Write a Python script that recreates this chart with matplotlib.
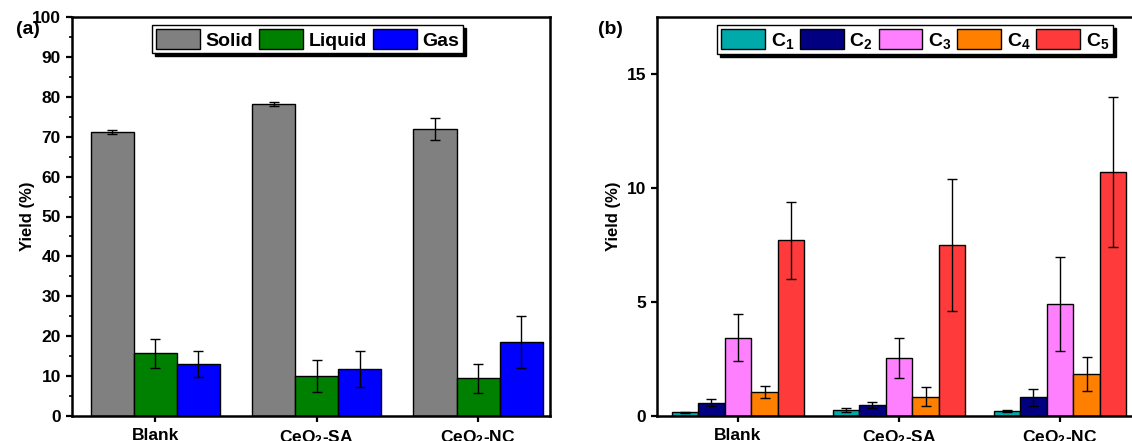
import numpy as np
import matplotlib
matplotlib.use("Agg")
import matplotlib.pyplot as plt
from matplotlib.ticker import MultipleLocator

plt.rcParams['font.family'] = ['Liberation Sans', 'DejaVu Sans']
plt.rcParams['font.weight'] = 'bold'
plt.rcParams['mathtext.fontset'] = 'custom'
plt.rcParams['mathtext.rm'] = 'Liberation Sans:bold'
plt.rcParams['mathtext.bf'] = 'Liberation Sans:bold'
plt.rcParams['mathtext.it'] = 'Liberation Sans:bold'

categories = ['Blank', 'CeO$_2$-SA', 'CeO$_2$-NC']

# Panel (a)
phase_labels = ['Solid', 'Liquid', 'Gas']
phase_colors = ['#808080', '#008000', '#0000FF']
solid = [71.3, 78.3, 72.0]
solid_err = [0.5, 0.5, 2.8]
liquid = [15.7, 10.0, 9.4]
liquid_err = [3.6, 4.0, 3.75]
gas = [13.0, 11.7, 18.6]
gas_err = [3.2, 4.5, 6.5]

# Panel (b)
carbon_labels = ['C$_1$', 'C$_2$', 'C$_3$', 'C$_4$', 'C$_5$']
carbon_colors = ['#00AAAA', '#000080', '#FF80FF', '#FF8000', '#FF3A3A']
c1 = [0.16, 0.26, 0.22]
c1_err = [0.03, 0.07, 0.06]
c2 = [0.59, 0.48, 0.83]
c2_err = [0.17, 0.15, 0.37]
c3 = [3.44, 2.53, 4.92]
c3_err = [1.02, 0.88, 2.07]
c4 = [1.05, 0.85, 1.84]
c4_err = [0.27, 0.42, 0.73]
c5 = [7.70, 7.50, 10.70]
c5_err = [1.67, 2.90, 3.30]

W, H = 1132, 441
fig = plt.figure(figsize=(W / 100, H / 100), dpi=100)

def px_axes(l, r, t, b):
    return fig.add_axes([l / W, (H - b) / H, (r - l) / W, (b - t) / H])

ax1 = px_axes(72, 550, 17, 416)
ax2 = px_axes(657, 1141, 17, 416)

x = np.arange(1, len(categories) + 1)

def style(ax, ylab_size):
    for s in ax.spines.values():
        s.set_linewidth(1.8)
    ax.tick_params(axis='both', which='major', direction='out', width=1.6, length=4.5,
                   labelsize=ylab_size)
    ax.tick_params(axis='x', labelsize=12.5, pad=4)
    ax.tick_params(axis='y', which='minor', direction='out', width=1.2, length=2.5)
    ax.set_xticks(x)
    ax.set_xticklabels(categories)
    for lab in ax.get_xticklabels() + ax.get_yticklabels():
        lab.set_fontweight('bold')
    ax.set_ylabel('Yield (%)', fontsize=12, fontweight='bold')

leg_kw = dict(fontsize=14, frameon=True, fancybox=False,
              shadow={'color': 'black', 'alpha': 1.0},
              handlelength=2.25, handleheight=1.25, handletextpad=0.3,
              columnspacing=0.3, borderpad=0.2, borderaxespad=0.2)

# Panel a
bw = 0.267
series_a = [(solid, solid_err), (liquid, liquid_err), (gas, gas_err)]
for i, ((vals, errs), lab, col) in enumerate(zip(series_a, phase_labels, phase_colors)):
    pos = x + (i - 1) * bw
    ax1.bar(pos, vals, bw, color=col, edgecolor='black', linewidth=1.0, label=lab, zorder=2)
    ax1.errorbar(pos, vals, yerr=errs, fmt='none', ecolor='black', elinewidth=1.0,
                 capsize=3.5, capthick=1.0, zorder=3)
ax1.set_xlim(0.483, 3.446)
ax1.set_ylim(0, 100)
ax1.yaxis.set_major_locator(MultipleLocator(10))
ax1.yaxis.set_minor_locator(MultipleLocator(5))
style(ax1, 12.5)
ax1.yaxis.set_label_coords(-0.078, 0.5)
leg1 = ax1.legend(loc='upper left', bbox_to_anchor=(0.16, 0.99), ncol=3, **leg_kw)
leg1.get_frame().set_edgecolor('black')
leg1.get_frame().set_linewidth(1.0)
for t in leg1.get_texts():
    t.set_fontweight('bold')

# Panel b
bw2 = 0.165
series_b = [(c1, c1_err), (c2, c2_err), (c3, c3_err), (c4, c4_err), (c5, c5_err)]
for i, ((vals, errs), lab, col) in enumerate(zip(series_b, carbon_labels, carbon_colors)):
    pos = x + (i - 2) * bw2
    ax2.bar(pos, vals, bw2, color=col, edgecolor='black', linewidth=1.0, label=lab, zorder=2)
    ax2.errorbar(pos, vals, yerr=errs, fmt='none', ecolor='black', elinewidth=1.0,
                 capsize=3.5, capthick=1.0, zorder=3)
ax2.set_xlim(0.497, 3.503)
ax2.set_ylim(0, 17.5)
ax2.yaxis.set_major_locator(MultipleLocator(5))
style(ax2, 12.5)
ax2.yaxis.set_label_coords(-0.075, 0.5)
leg2 = ax2.legend(loc='upper left', bbox_to_anchor=(0.116, 0.99), ncol=5, **leg_kw)
leg2.get_frame().set_edgecolor('black')
leg2.get_frame().set_linewidth(1.0)
for t in leg2.get_texts():
    t.set_fontweight('bold')

fig.text(16 / W, 1 - 30 / H, '(a)', fontsize=14, fontweight='bold', va='center', ha='left')
fig.text(598 / W, 1 - 30 / H, '(b)', fontsize=14, fontweight='bold', va='center', ha='left')

fig.savefig('out.png', dpi=100)
